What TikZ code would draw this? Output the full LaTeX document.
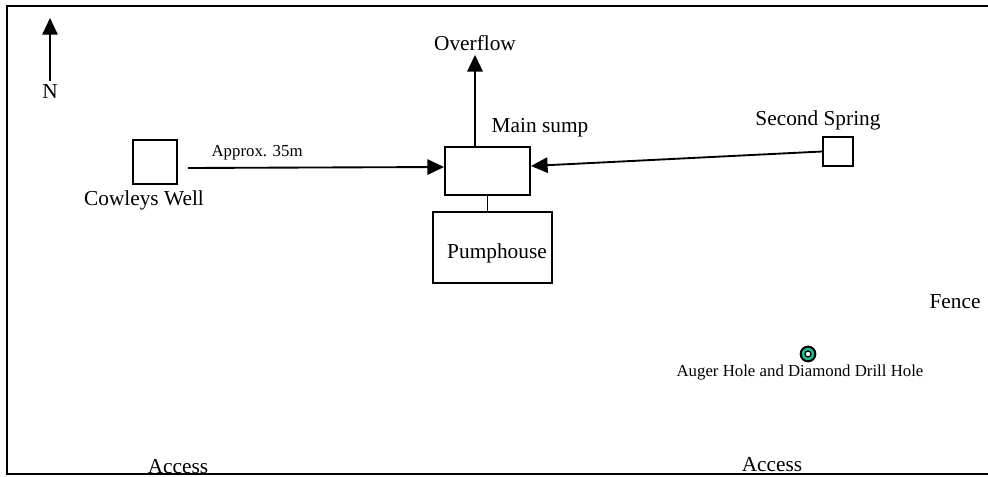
\documentclass[tikz,border=0pt]{standalone}
\usepackage{fontspec}
\setmainfont{Liberation Serif}
\usetikzlibrary{arrows.meta, positioning}
\definecolor{holeteal}{RGB}{30, 190, 150}

\tikzset{
  site/.style={draw, line width=1.4pt, inner sep=0pt},
  lbl/.style={font=\fontsize{16}{19}\selectfont, inner sep=3pt},
  smalllbl/.style={font=\fontsize{12.6}{15}\selectfont, inner sep=2pt},
  flow/.style={line width=1.4pt, -{Triangle[length=12.5pt, width=11.5pt]}},
  plain/.style={line width=1.4pt}
}

\begin{document}
\begin{tikzpicture}[x=0.75pt, y=-0.75pt]
  \useasboundingbox (0,0) rectangle (988,477);

  % Frame (open to the right)
  \draw[plain] (988,6) -- (7,6) -- (7,474) -- (988,474);

  % North arrow
  \node[lbl] (nlbl) at (50,92) {N};
  \coordinate (ntip) at (50,18);
  \draw[flow] (nlbl.north) -- (ntip);

  % Wells and sump
  \node[site, minimum width=33pt, minimum height=33pt] (cowleys) at (155,162) {};
  \node[lbl] (cowleyslbl) at (144,200) {Cowleys Well};

  \node[site, minimum width=63.75pt, minimum height=36pt] (sump) at (487.5,171) {};
  \node[lbl] (sumplbl) at (540,128) {Main sump};

  \node[site, minimum width=89.25pt, minimum height=53.25pt] (pump) at (492.5,247.5) {};
  \node[lbl] (pumplbl) at (497,253) {Pumphouse};

  \node[site, minimum width=22.5pt, minimum height=21.75pt] (spring) at (838,151.5) {};
  \node[lbl] (springlbl) at (818,120) {Second Spring};

  \node[lbl] (overflow) at (475,43) {Overflow};

  % Flows
  \draw[flow] ([xshift=7.5pt, yshift=-4.5pt]cowleys.east) -- ([yshift=3pt]sump.west)
    node[smalllbl, pos=0.27, above=3pt] (dist) {Approx. 35m};
  \draw[flow] (spring.west) -- ([yshift=3.75pt]sump.east);
  \draw[flow] (overflow.south |- sump.north) -- (overflow.south);
  \draw[plain] (sump.south) -- (sump.south |- pump.north);

  % Drill hole
  \node[circle, draw, line width=1.5pt, fill=holeteal, minimum size=11pt, inner sep=0pt] (hole) at (808,354) {};
  \node[circle, draw, line width=1pt, fill=white, minimum size=4.5pt, inner sep=0pt] (holecore) at (hole) {};
  \node[smalllbl] (holelbl) at (800,372) {Auger Hole and Diamond Drill Hole};

  % Fence and access
  \node[lbl] (fence) at (955,302) {Fence};
  \node[lbl, anchor=base] (access1) at (178,473) {Access};
  \node[lbl, anchor=base] (access2) at (772,471) {Access};
\end{tikzpicture}
\end{document}
